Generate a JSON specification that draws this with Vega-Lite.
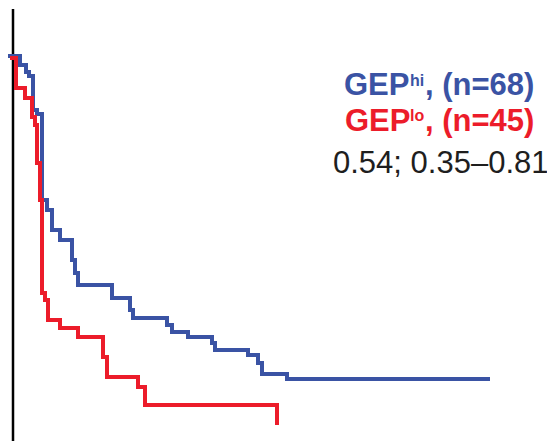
{
  "$schema": "https://vega.github.io/schema/vega-lite/v6.json",
  "width": 547,
  "height": 441,
  "autosize": {"type": "none"},
  "padding": 0,
  "background": "white",
  "config": {"view": {"stroke": null}},
  "datasets": {
    "km": [
      {"group": "hi", "t": -1.0, "s": 100},
      {"group": "hi", "t": 1.4, "s": 97.66},
      {"group": "hi", "t": 2.6, "s": 95.84},
      {"group": "hi", "t": 3.2, "s": 94.81},
      {"group": "hi", "t": 4.0, "s": 85.97},
      {"group": "hi", "t": 4.8, "s": 84.94},
      {"group": "hi", "t": 5.8, "s": 62.6},
      {"group": "hi", "t": 6.8, "s": 60.0},
      {"group": "hi", "t": 7.8, "s": 54.81},
      {"group": "hi", "t": 9.4, "s": 52.21},
      {"group": "hi", "t": 11.8, "s": 47.01},
      {"group": "hi", "t": 12.4, "s": 43.64},
      {"group": "hi", "t": 13.0, "s": 40.52},
      {"group": "hi", "t": 19.8, "s": 37.14},
      {"group": "hi", "t": 23.4, "s": 34.03},
      {"group": "hi", "t": 24.0, "s": 31.95},
      {"group": "hi", "t": 30.8, "s": 30.13},
      {"group": "hi", "t": 31.8, "s": 28.31},
      {"group": "hi", "t": 35.0, "s": 27.01},
      {"group": "hi", "t": 39.8, "s": 25.45},
      {"group": "hi", "t": 40.4, "s": 23.64},
      {"group": "hi", "t": 47.0, "s": 22.34},
      {"group": "hi", "t": 49.0, "s": 20.26},
      {"group": "hi", "t": 49.8, "s": 17.4},
      {"group": "hi", "t": 54.8, "s": 16.1},
      {"group": "hi", "t": 95.4, "s": 16.1},
      {"group": "lo", "t": -0.6, "s": 99.5},
      {"group": "lo", "t": 0.6, "s": 91.69},
      {"group": "lo", "t": 2.4, "s": 89.09},
      {"group": "lo", "t": 3.8, "s": 84.16},
      {"group": "lo", "t": 4.4, "s": 82.08},
      {"group": "lo", "t": 4.8, "s": 72.21},
      {"group": "lo", "t": 5.4, "s": 62.6},
      {"group": "lo", "t": 5.8, "s": 38.44},
      {"group": "lo", "t": 6.4, "s": 36.62},
      {"group": "lo", "t": 7.0, "s": 31.43},
      {"group": "lo", "t": 9.4, "s": 29.35},
      {"group": "lo", "t": 13.0, "s": 27.01},
      {"group": "lo", "t": 18.0, "s": 21.82},
      {"group": "lo", "t": 18.8, "s": 16.62},
      {"group": "lo", "t": 25.0, "s": 14.03},
      {"group": "lo", "t": 26.4, "s": 9.35},
      {"group": "lo", "t": 52.8, "s": 4.16}
    ],
    "labels": [
      {"kind": "main", "group": "hi", "text": "GEP", "t": 66.2, "s": 89.87},
      {"kind": "main", "group": "lo", "text": "GEP", "t": 66.4, "s": 80.52},
      {"kind": "sup", "group": "hi", "text": "hi", "t": 79.4, "s": 92.21},
      {"kind": "sup", "group": "lo", "text": "lo", "t": 79.4, "s": 83.12},
      {"kind": "count", "group": "hi", "text": ", (n=68)", "t": 82.4, "s": 89.87},
      {"kind": "count", "group": "lo", "text": ", (n=45)", "t": 82.4, "s": 80.52},
      {"kind": "hr", "group": "ns", "text": "0.54; 0.35–0.81", "t": 64.0, "s": 69.61}
    ],
    "axis": [
      {"t": 0, "s": 0, "s2": 112.2}
    ]
  },
  "encoding": {
    "x": {"field": "t", "type": "quantitative", "scale": {"domain": [-2.6, 106.8], "nice": false, "zero": false}, "axis": null},
    "y": {"field": "s", "type": "quantitative", "scale": {"domain": [0, 114.55], "nice": false, "zero": false}, "axis": null}
  },
  "layer": [
    {
      "data": {"name": "axis"},
      "mark": {"type": "rule", "color": "black", "strokeWidth": 2.5},
      "encoding": {"y2": {"field": "s2"}}
    },
    {
      "data": {"name": "km"},
      "mark": {"type": "line", "interpolate": "step-after", "strokeWidth": 4, "strokeCap": "butt", "strokeJoin": "miter"},
      "encoding": {
        "color": {"field": "group", "type": "nominal", "scale": {"domain": ["hi", "lo", "ns"], "range": ["#3a53a4", "#ec1c2a", "#1e1e1e"]}, "legend": null},
        "order": {"field": "t", "type": "quantitative"}
      }
    },
    {
      "data": {"name": "labels"},
      "transform": [{"filter": "datum.kind === 'main'"}],
      "mark": {"type": "text", "align": "left", "baseline": "alphabetic", "font": "Liberation Sans", "fontWeight": "bold", "fontSize": 31},
      "encoding": {
        "text": {"field": "text"},
        "color": {"field": "group", "type": "nominal", "legend": null}
      }
    },
    {
      "data": {"name": "labels"},
      "transform": [{"filter": "datum.kind === 'sup'"}],
      "mark": {"type": "text", "align": "left", "baseline": "alphabetic", "font": "Liberation Sans", "fontWeight": "bold", "fontSize": 16},
      "encoding": {
        "text": {"field": "text"},
        "color": {"field": "group", "type": "nominal", "legend": null}
      }
    },
    {
      "data": {"name": "labels"},
      "transform": [{"filter": "datum.kind === 'count'"}],
      "mark": {"type": "text", "align": "left", "baseline": "alphabetic", "font": "Liberation Sans", "fontWeight": "bold", "fontSize": 31},
      "encoding": {
        "text": {"field": "text"},
        "color": {"field": "group", "type": "nominal", "legend": null}
      }
    },
    {
      "data": {"name": "labels"},
      "transform": [{"filter": "datum.kind === 'hr'"}],
      "mark": {"type": "text", "align": "left", "baseline": "alphabetic", "font": "Liberation Sans", "fontSize": 31},
      "encoding": {
        "text": {"field": "text"},
        "color": {"field": "group", "type": "nominal", "legend": null}
      }
    }
  ]
}
